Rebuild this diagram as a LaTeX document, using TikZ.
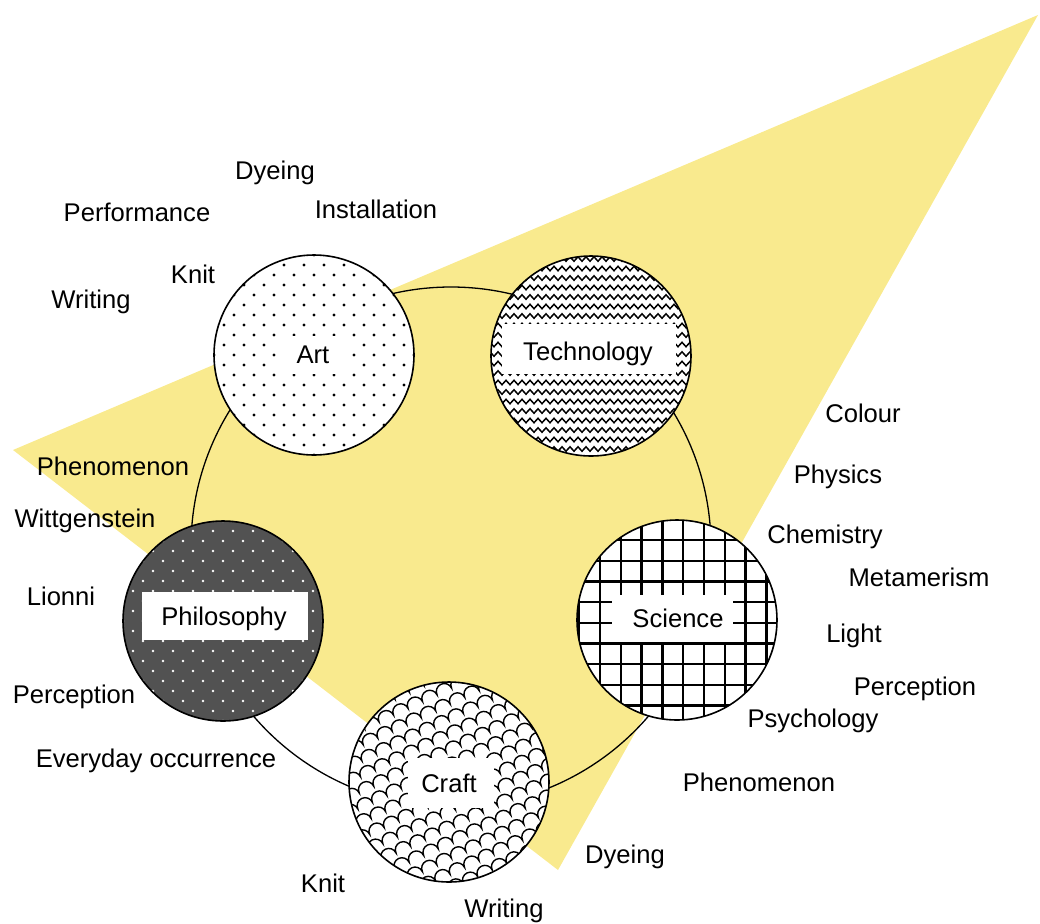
\documentclass[tikz,border=0pt]{standalone}
\usepackage{fontspec}
\setmainfont{Liberation Sans}
\usetikzlibrary{decorations.pathmorphing}
\definecolor{tri}{HTML}{F9EA8E}
\begin{document}
\begin{tikzpicture}[x=0.5pt,y=-0.5pt,
  hub/.style={circle, draw=black, line width=0.8pt, minimum size=100pt, inner sep=0pt},
  ringstyle/.style={circle, draw=black, line width=0.65pt, minimum size=260pt, inner sep=0pt},
  word/.style={font=\fontsize{12.8}{15}\selectfont, anchor=base, inner sep=0pt},
  sciline/.style={line width=1.2pt, black},
  zig/.style={line width=0.75pt, decorate, decoration={zigzag, segment length=4pt, amplitude=1.1pt}},
  scale line/.style={line width=0.7pt},
]
\useasboundingbox (0,0) rectangle (1040,923);
% background triangle
\fill[tri] (1038,15) -- (13,450) -- (558,870) -- cycle;
% ring
\node[ringstyle] (ring) at (451,547) {};

% ---------- Art: dots ----------
\begin{scope}
\clip (314,355) circle[radius=100];
\fill[white] (314,355) circle[radius=100];
\foreach \j in {-10,...,10}{
  \foreach \i in {-6,...,6}{
    \pgfmathsetmacro{\xx}{314+\i*20+mod(abs(\j),2)*10}
    \fill ({\xx},{355+\j*10}) circle[radius=1.6];
  }}
\fill[white] (282,336) rectangle (346,374);
\end{scope}

% ---------- Technology: zigzag ----------
\begin{scope}
\clip (591,356) circle[radius=100];
\fill[white] (591,356) circle[radius=100];
\foreach \j in {0,...,21}{
  \draw[zig] (480,{259+\j*9.5}) -- (710,{259+\j*9.5});
}
\fill[white] (502,324) rectangle (676,374);
\end{scope}

% ---------- Science: grid ----------
\begin{scope}
\clip (677,620) circle[radius=100];
\fill[white] (677,620) circle[radius=100];
\foreach \k in {-2,...,9}{
  \draw[sciline] ({600+\k*20.8},515) -- ({600+\k*20.8},725);
}
\foreach \k in {-1,...,9}{
  \draw[sciline] (570,{540+\k*20.7}) -- (785,{540+\k*20.7});
}
\fill[white] (612,595) rectangle (733,642);
\end{scope}

% ---------- Philosophy: dark with white dots ----------
\begin{scope}
\clip (223,621) circle[radius=100];
\fill[black!68] (223,621) circle[radius=100];
\foreach \j in {-10,...,10}{
  \foreach \i in {-6,...,6}{
    \pgfmathsetmacro{\xx}{223+\i*20+mod(abs(\j),2)*10}
    \fill[white] ({\xx},{621+\j*10}) circle[radius=1.4];
  }}
\fill[white] (142,592) rectangle (308,640);
\end{scope}

% ---------- Craft: scales ----------
\begin{scope}
\clip (449,782) circle[radius=100];
\fill[white] (449,782) circle[radius=100];
\begin{scope}[rotate around={25:(449,782)}]
\foreach \j in {-10,...,10}{
  \pgfmathsetmacro{\yy}{782+\j*14}
  \pgfmathsetmacro{\xo}{449-150+mod(abs(\j),2)*8}
  \draw[scale line] ({\xo},{\yy}) \foreach \i in {1,...,19}{ arc[start angle=180, end angle=360, radius=8] };
}
\end{scope}
\fill[white] (408,758) rectangle (494,808);
\end{scope}

% circle outlines
\node[hub] (art) at (314,355) {};
\node[hub] (tech) at (591,356) {};
\node[hub] (sci) at (677,620) {};
\node[hub] (phil) at (223,621) {};
\node[hub] (craft) at (449,782) {};

% circle labels
\node[word] (l-art) at (313,363) {Art};
\node[word] (l-tech) at (588,360) {Technology};
\node[word] (l-sci) at (678,627) {Science};
\node[word] (l-phil) at (224,625) {Philosophy};
\node[word] (l-craft) at (449,792) {Craft};

% surrounding words
\node[word] (w1) at (275,179) {Dyeing};
\node[word] (w2) at (137,221) {Performance};
\node[word] (w3) at (376,218) {Installation};
\node[word] (w4) at (193,283) {Knit};
\node[word] (w5) at (91,308) {Writing};
\node[word] (w6) at (863,422) {Colour};
\node[word] (w7) at (113,475) {Phenomenon};
\node[word] (w8) at (838,483) {Physics};
\node[word] (w9) at (85,527) {Wittgenstein};
\node[word] (w10) at (825,543) {Chemistry};
\node[word] (w11) at (919,586) {Metamerism};
\node[word] (w12) at (61,605) {Lionni};
\node[word] (w13) at (854,642) {Light};
\node[word] (w14) at (74,703) {Perception};
\node[word] (w15) at (915,695) {Perception};
\node[word] (w16) at (813,727) {Psychology};
\node[word] (w17) at (156,767) {Everyday occurrence};
\node[word] (w18) at (759,791) {Phenomenon};
\node[word] (w19) at (625,863) {Dyeing};
\node[word] (w20) at (323,892) {Knit};
\node[word] (w21) at (504,917) {Writing};
\end{tikzpicture}
\end{document}
